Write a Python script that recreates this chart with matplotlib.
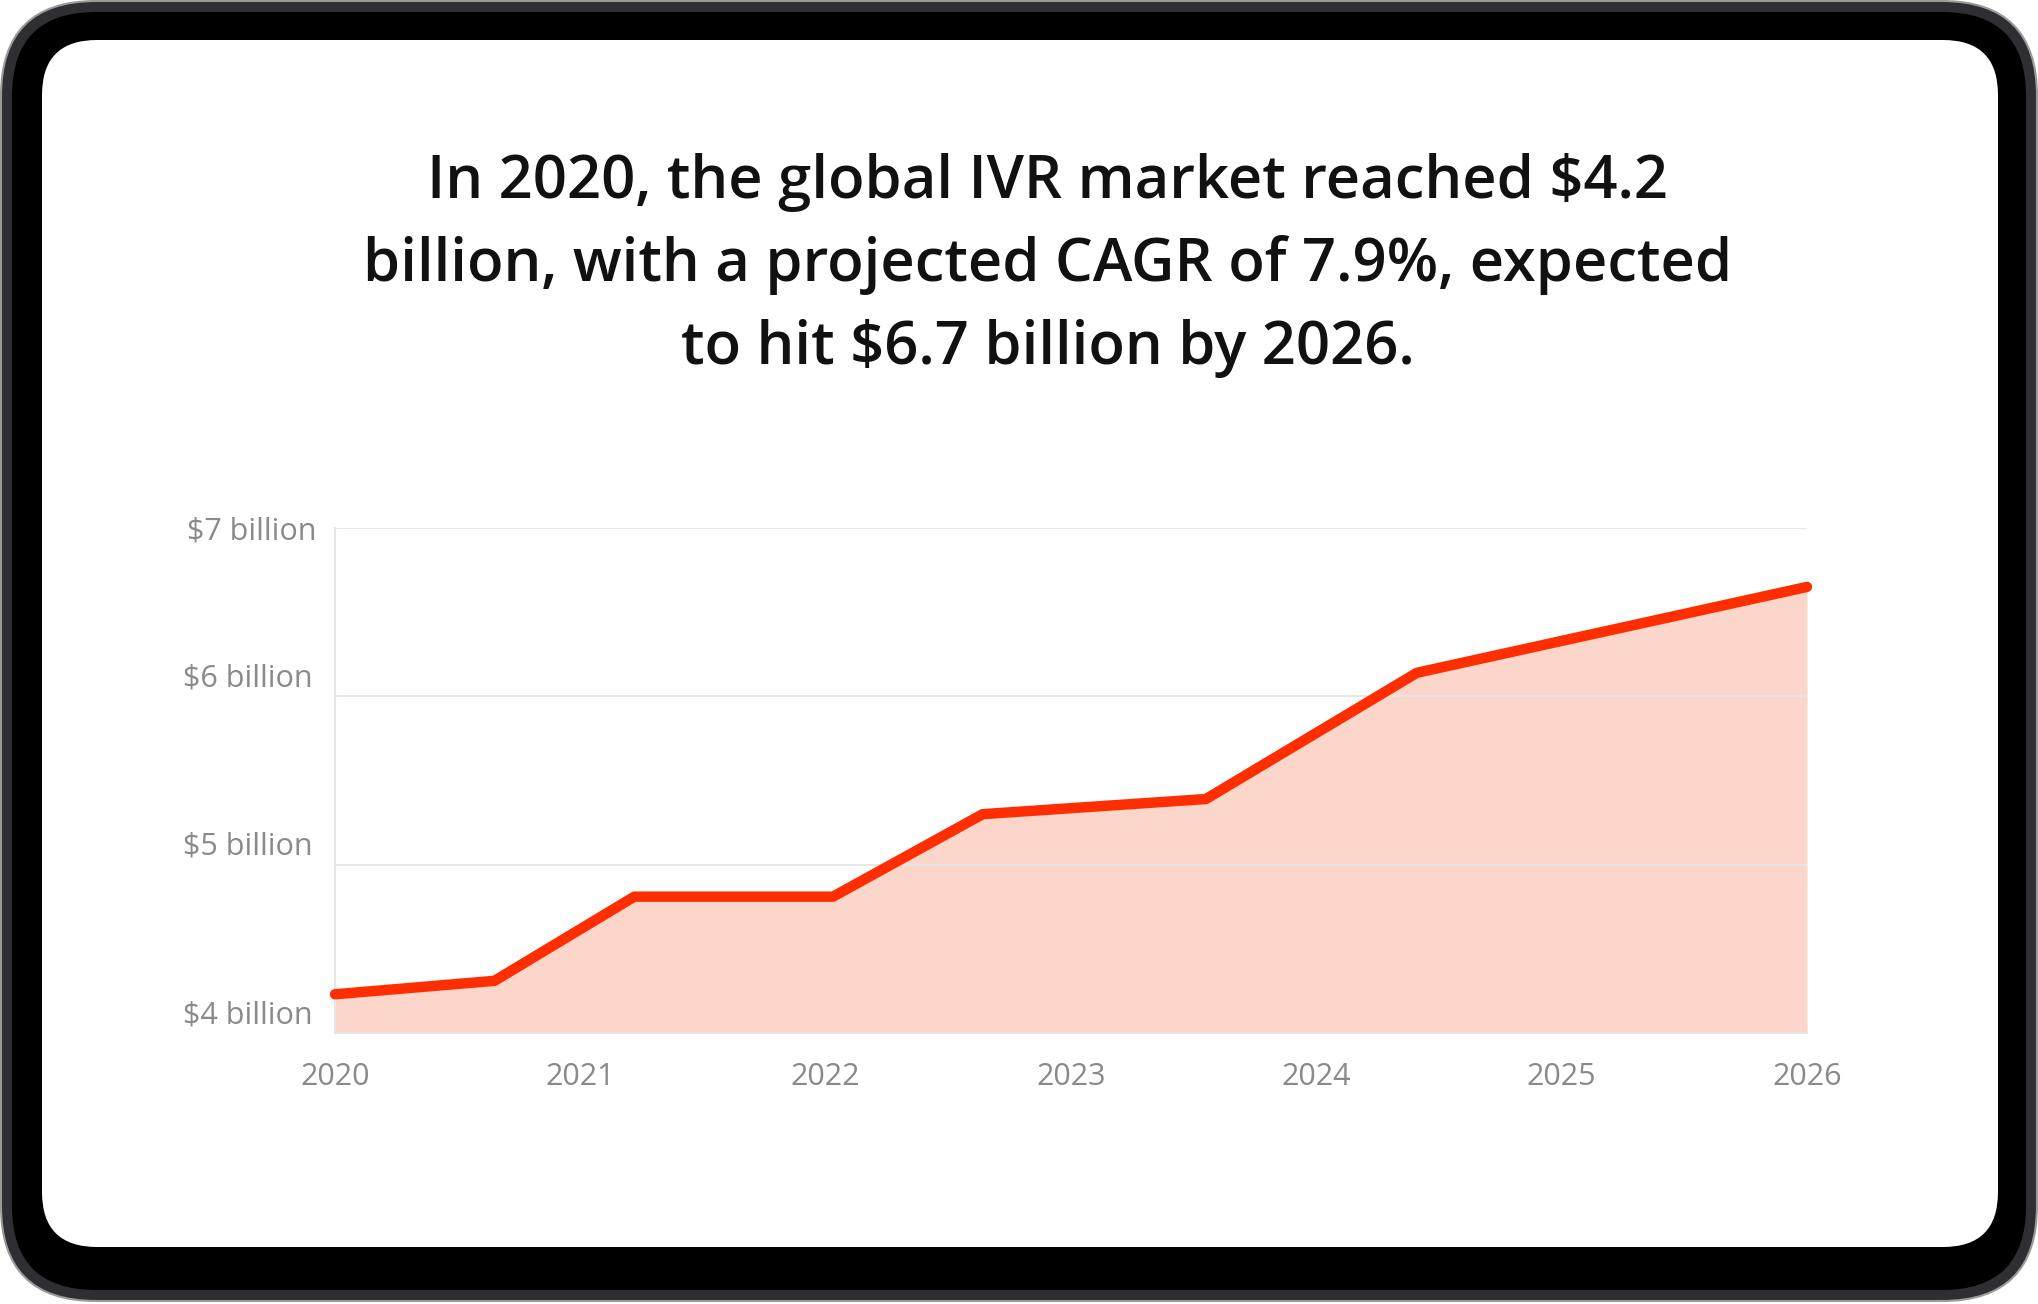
import matplotlib.pyplot as plt
import matplotlib.transforms as mtransforms
from matplotlib.patches import FancyBboxPatch

# data
years = [2020.0, 2020.65, 2021.22, 2022.03, 2022.64, 2023.55, 2024.41, 2026.0]
values = [4.23, 4.31, 4.81, 4.81, 5.30, 5.39, 6.14, 6.65]
y_ticks = [4, 5, 6, 7]
y_labels = ["$4 billion", "$5 billion", "$6 billion", "$7 billion"]
x_ticks = [2020, 2021, 2022, 2023, 2024, 2025, 2026]
title_lines = [
    "In 2020, the global IVR market reached $4.2",
    "billion, with a projected CAGR of 7.9%, expected",
    "to hit $6.7 billion by 2026.",
]

W, H = 2038, 1304
fig = plt.figure(figsize=(W / 100, H / 100), dpi=100)
fig.patch.set_facecolor("white")

# device frame, drawn in pixel coords (y down)
bg = fig.add_axes([0, 0, 1, 1])
bg.set_xlim(0, W)
bg.set_ylim(H, 0)
bg.axis("off")


def rrect(x0, y0, x1, y1, r, **kw):
    bg.add_patch(FancyBboxPatch((x0, y0), x1 - x0, y1 - y0,
                                boxstyle=f"round,pad=0,rounding_size={r}", **kw))


rrect(1, 1, W - 1, H - 3, 95, facecolor="#2f2f33", edgecolor="#9a9a9a", linewidth=1.5)
rrect(12, 12, W - 12, H - 14, 84, facecolor="black", edgecolor="none")
rrect(42, 40, 1998, 1247, 55, facecolor="white", edgecolor="none")

# title
for i, line in enumerate(title_lines):
    bg.text(1048, 182 + i * 83, line, ha="center", va="center",
            fontsize=43, family="Open Sans", weight="semibold", color="#111111")

# chart
ax = fig.add_axes([335 / W, 1 - 1033 / H, (1807 - 335) / W, (1033 - 528) / H])
line_color = "#ff2e00"
fill_color = "#fcd5cb"
grid_color = "#e6e6e6"

ax.fill_between(years, 4, values, color=fill_color, linewidth=0, zorder=1)
ax.plot(years, values, color=line_color, linewidth=7.5,
        solid_joinstyle="round", solid_capstyle="round", clip_on=False, zorder=3)

ax.set_xlim(2020, 2026)
ax.set_ylim(4, 7)
ax.set_yticks(y_ticks)
ax.set_yticklabels(y_labels)
ax.set_xticks(x_ticks)
ax.set_xticklabels([str(x) for x in x_ticks])

for y in y_ticks[1:]:
    ax.axhline(y, color=grid_color, linewidth=1.3, zorder=2)

for side in ["top", "right"]:
    ax.spines[side].set_visible(False)
for side in ["left", "bottom"]:
    ax.spines[side].set_color(grid_color)
    ax.spines[side].set_linewidth(1.5)

ax.tick_params(axis="both", length=0, labelcolor="#8a8a8a", labelsize=22)
ax.tick_params(axis="y", pad=16)
ax.tick_params(axis="x", pad=21)
for lab in ax.get_xticklabels() + ax.get_yticklabels():
    lab.set_family("Open Sans")

ylabs = ax.get_yticklabels()
for lab in ylabs[:-1]:
    lab.set_va("bottom")
    lab.set_transform(lab.get_transform() +
                      mtransforms.ScaledTranslation(0, 2 / 72, fig.dpi_scale_trans))
ylabs[-1].set_transform(ylabs[-1].get_transform() +
                        mtransforms.ScaledTranslation(3 / 72, 0, fig.dpi_scale_trans))

fig.savefig("out.png", dpi=100)
